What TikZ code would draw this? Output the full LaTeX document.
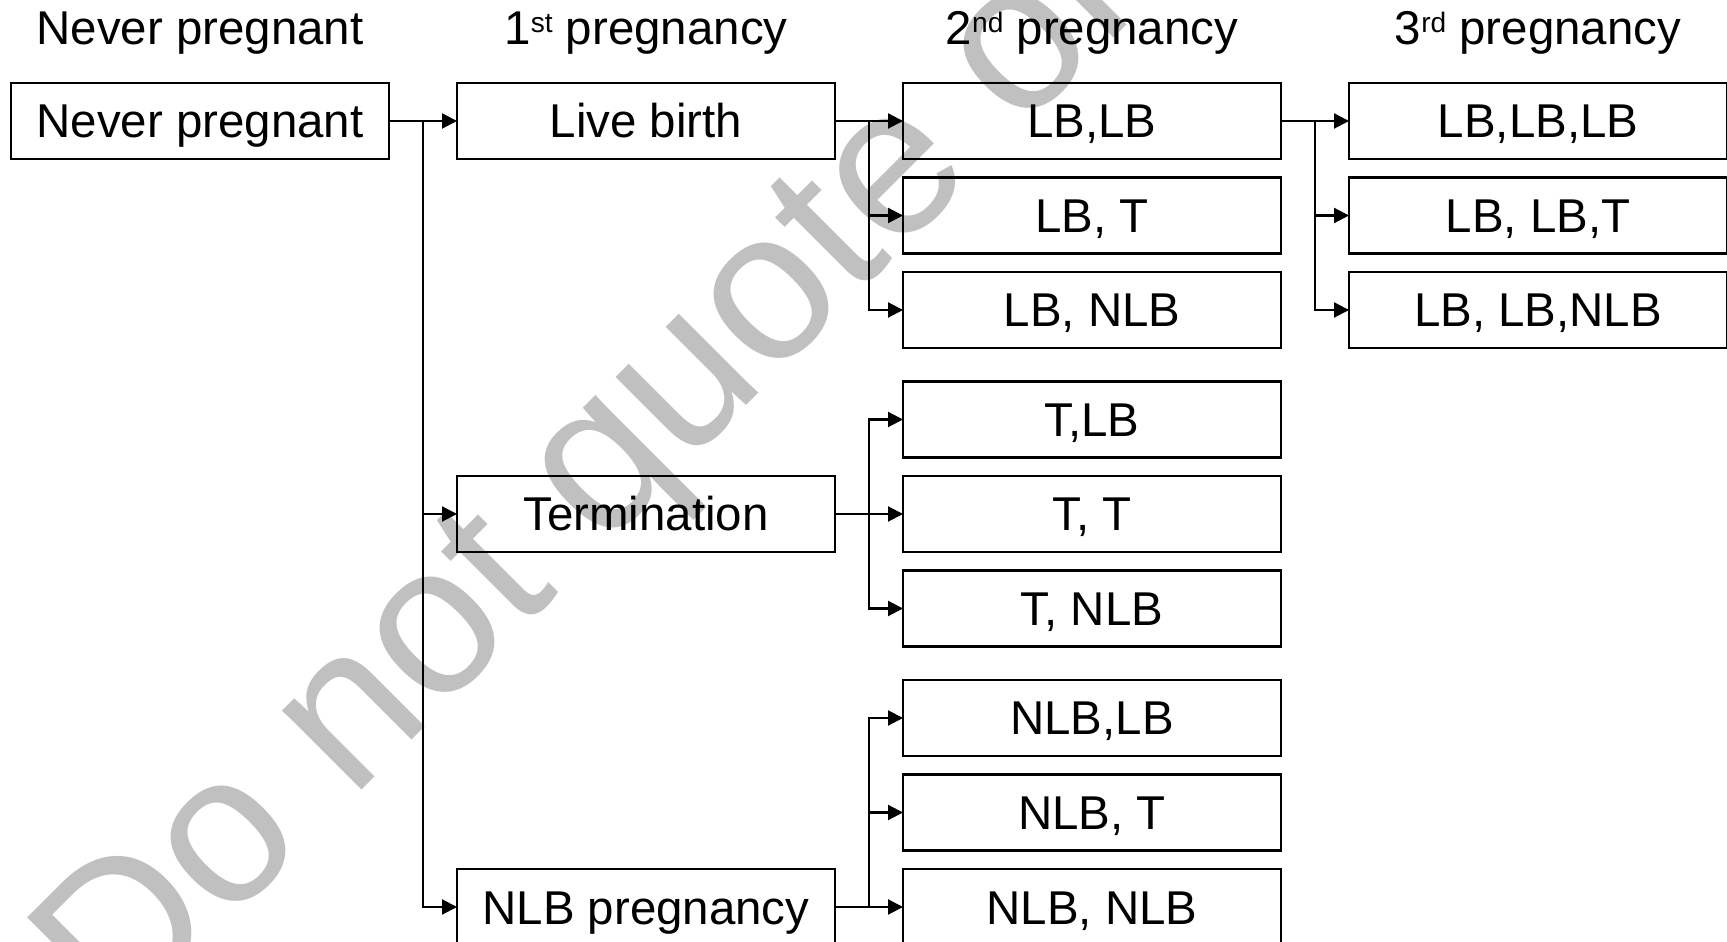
\documentclass[tikz,border=0pt]{standalone}
\usepackage{fontspec}
\setmainfont{Liberation Sans}
\usetikzlibrary{positioning, arrows.meta}
\definecolor{wmgray}{RGB}{192,192,192}
\newcommand{\sups}[1]{\raisebox{1.2mm}{\fontsize{8}{9}\selectfont #1}}

\begin{document}
\begin{tikzpicture}[
    box/.style={rectangle, draw=black, line width=0.6pt, minimum width=37.8mm, minimum height=7.6mm, inner sep=0pt, outer sep=0pt, text height=3.4mm, text depth=0pt, font=\fontsize{13.5}{16}\selectfont},
    head/.style={inner sep=0pt, text height=3.4mm, text depth=1mm, font=\fontsize{13.5}{16}\selectfont},
    arrow/.style={-{Triangle[length=1.5mm, width=1.5mm]}, line width=0.6pt},
    watermark/.style={font=\fontsize{60.4}{70}\selectfont, text=wmgray, rotate=45, anchor=base west, inner sep=0pt},
]
\useasboundingbox (-20mm,12.1mm) rectangle (152.7mm,-82.1mm);

% Watermark
\begin{scope}
\clip (-20mm,12.1mm) rectangle (152.7mm,-82.1mm);
\node[watermark] (wm) at (-8.2mm,-91.3mm) {Do not quote or cite};
\end{scope}

% Never pregnant and 1st pregnancy
\node[box] (np) at (0,0) {Never pregnant};
\node[box, right=6.8mm of np] (lb) {Live birth};

% 2nd pregnancy
\node[box, right=6.8mm of lb] (ll) {LB,LB};
\node[box, below=1.85mm of ll] (lt) {LB, T};
\node[box, below=1.85mm of lt] (ln) {LB, NLB};
\node[box, below=3.35mm of ln] (tl) {T,LB};
\node[box, below=1.85mm of tl] (tt) {T, T};
\node[box, below=1.85mm of tt] (tn) {T, NLB};
\node[box, below=3.35mm of tn] (nl) {NLB,LB};
\node[box, below=1.85mm of nl] (nt) {NLB, T};
\node[box, below=1.85mm of nt] (nn) {NLB, NLB};

% 1st pregnancy, lower rows
\node[box, left=6.8mm of tt] (term) {Termination};
\node[box, left=6.8mm of nn] (nlbp) {NLB pregnancy};

% 3rd pregnancy
\node[box, right=6.8mm of ll] (lll) {LB,LB,LB};
\node[box, below=1.85mm of lll] (llt) {LB, LB,T};
\node[box, below=1.85mm of llt] (lln) {LB, LB,NLB};

% Column headings
\node[head, above=2.8mm of np] (hnp) {Never pregnant};
\node[head, above=2.8mm of lb] (h1) {1\sups{st} pregnancy};
\node[head, above=2.8mm of ll] (h2) {2\sups{nd} pregnancy};
\node[head, above=2.8mm of lll] (h3) {3\sups{rd} pregnancy};

% Branch points
\coordinate (jnp) at ([xshift=3.4mm]np.east);
\coordinate (jlb) at ([xshift=3.4mm]lb.east);
\coordinate (jterm) at ([xshift=3.4mm]term.east);
\coordinate (jnlbp) at ([xshift=3.4mm]nlbp.east);
\coordinate (jll) at ([xshift=3.4mm]ll.east);

% Arrows
\draw[arrow] (np) -- (lb);
\draw[arrow] (jnp) |- (term);
\draw[arrow] (jnp) |- (nlbp);

\draw[arrow] (lb) -- (ll);
\draw[arrow] (jlb) |- (lt);
\draw[arrow] (jlb) |- (ln);

\draw[arrow] (term) -- (tt);
\draw[arrow] (jterm) |- (tl);
\draw[arrow] (jterm) |- (tn);

\draw[arrow] (nlbp) -- (nn);
\draw[arrow] (jnlbp) |- (nl);
\draw[arrow] (jnlbp) |- (nt);

\draw[arrow] (ll) -- (lll);
\draw[arrow] (jll) |- (llt);
\draw[arrow] (jll) |- (lln);
\end{tikzpicture}
\end{document}
